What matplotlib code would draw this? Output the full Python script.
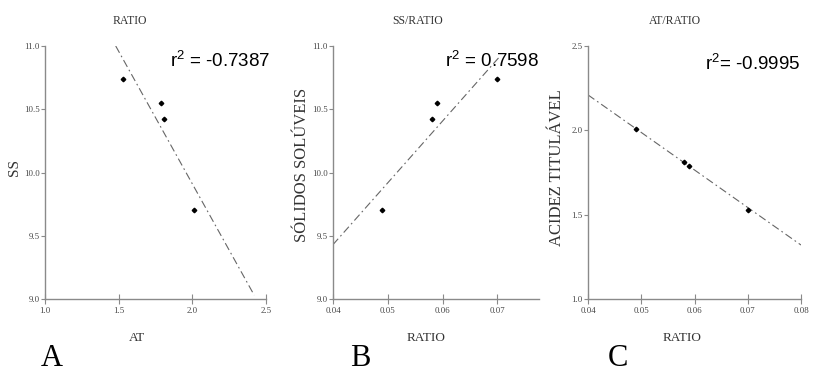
import matplotlib
matplotlib.use('Agg')
import matplotlib.pyplot as plt

# panel A: SS vs AT
at_vals = [1.53, 1.79, 1.81, 2.01]
ss_vals = [10.74, 10.55, 10.42, 9.70]
fit_a_x = [1.48, 2.42]
fit_a_y = [11.0, 9.03]

# panel B: SS vs RATIO
ratio_vals = [0.049, 0.058, 0.059, 0.070]
ss_b_vals = [9.70, 10.42, 10.55, 10.74]
fit_b_x = [0.040, 0.0703]
fit_b_y = [9.43, 10.91]

# panel C: AT vs RATIO
at_c_vals = [2.01, 1.81, 1.79, 1.53]
fit_c_x = [0.040, 0.080]
fit_c_y = [2.21, 1.32]

r2_labels = ['r$^2$ = -0.7387', 'r$^2$ = 0.7598', 'r$^2$= -0.9995']

plt.rcParams['mathtext.fontset'] = 'custom'
plt.rcParams['mathtext.rm'] = 'Liberation Sans'
plt.rcParams['mathtext.it'] = 'Liberation Sans'

W, H = 813, 373
fig = plt.figure(figsize=(W / 100, H / 100), dpi=100)

def px_axes(left, right, top, bottom):
    return fig.add_axes([left / W, (H - bottom) / H, (right - left) / W, (bottom - top) / H])

SERIF = 'Liberation Serif'
SPINE = '#8a8a8a'

def style(ax, xticks, xlabels, yticks, ylabels):
    for s in ['top', 'right']:
        ax.spines[s].set_visible(False)
    for s in ['left', 'bottom']:
        ax.spines[s].set_color(SPINE)
        ax.spines[s].set_linewidth(1.0)
    ax.set_xticks(xticks)
    ax.set_xticklabels(xlabels, family=SERIF, fontsize=6.3, color='#444')
    ax.set_yticks(yticks)
    ax.set_yticklabels(ylabels, family=SERIF, fontsize=6.3, color='#444')
    ax.tick_params(axis='x', direction='inout', length=7, width=0.8, color=SPINE, pad=2)
    ax.tick_params(axis='y', direction='out', length=3, width=0.8, color=SPINE, pad=1)

def draw(ax, x, y, fx, fy):
    ax.plot(fx, fy, color='#666666', lw=0.8, linestyle=(0, (7, 3, 1.5, 3)))
    ax.plot(x, y, 'D', color='black', markersize=2.3, clip_on=False)

def r2(text, x, baseline):
    fig.text(x / W, (H - baseline) / H, text, family='Liberation Sans', fontsize=13.5, va='baseline')

# A
axA = px_axes(45, 266, 46, 299)
draw(axA, at_vals, ss_vals, fit_a_x, fit_a_y)
axA.set_xlim(1.0, 2.5)
axA.set_ylim(9.0, 11.0)
style(axA, [1.0, 1.5, 2.0, 2.5], ['1.0', '1.5', '2.0', '2.5'],
      [9.0, 9.5, 10.0, 10.5, 11.0], ['9.0', '9.5', '10.0', '10.5', '11.0'])
axA.text(0.385, 1.10, 'RATIO', transform=axA.transAxes, ha='center', va='center',
         family=SERIF, fontsize=8.5, color='#333')
axA.text(0.416, -0.155, 'AT', transform=axA.transAxes, ha='center', va='center',
         family=SERIF, fontsize=9.5, color='#333')
axA.text(-0.14, 0.52, 'SS', transform=axA.transAxes, ha='center', va='center',
         rotation=90, family=SERIF, fontsize=11, color='#333')
r2(r2_labels[0], 170, 67)

# B
axB = px_axes(333, 539, 46, 299)
draw(axB, ratio_vals, ss_b_vals, fit_b_x, fit_b_y)
axB.set_xlim(0.04, 0.0776)
axB.set_ylim(9.0, 11.0)
style(axB, [0.04, 0.05, 0.06, 0.07], ['0.04', '0.05', '0.06', '0.07'],
      [9.0, 9.5, 10.0, 10.5, 11.0], ['9.0', '9.5', '10.0', '10.5', '11.0'])
axB.text(0.41, 1.10, 'SS/RATIO', transform=axB.transAxes, ha='center', va='center',
         family=SERIF, fontsize=8.5, color='#333')
axB.text(0.45, -0.155, 'RATIO', transform=axB.transAxes, ha='center', va='center',
         family=SERIF, fontsize=9.5, color='#333')
axB.text(-0.15, 0.53, 'SÓLIDOS SOLÚVEIS', transform=axB.transAxes, ha='center', va='center',
         rotation=90, family=SERIF, fontsize=12, color='#333')
r2(r2_labels[1], 445, 67)

# C (right edge pulled in a little so the 0.08 label stays inside the figure)
axC = px_axes(588, 801, 46, 299)
draw(axC, ratio_vals, at_c_vals, fit_c_x, fit_c_y)
axC.set_xlim(0.04, 0.08)
axC.set_ylim(1.0, 2.5)
style(axC, [0.04, 0.05, 0.06, 0.07, 0.08], ['0.04', '0.05', '0.06', '0.07', '0.08'],
      [1.0, 1.5, 2.0, 2.5], ['1.0', '1.5', '2.0', '2.5'])
axC.text(0.41, 1.10, 'AT/RATIO', transform=axC.transAxes, ha='center', va='center',
         family=SERIF, fontsize=8.5, color='#333')
axC.text(0.44, -0.155, 'RATIO', transform=axC.transAxes, ha='center', va='center',
         family=SERIF, fontsize=9.5, color='#333')
axC.text(-0.145, 0.52, 'ACIDEZ TITULÁVEL', transform=axC.transAxes, ha='center', va='center',
         rotation=90, family=SERIF, fontsize=12, color='#333')
r2(r2_labels[2], 705, 70)

# panel letters
for letter, x in zip(['A', 'B', 'C'], [52, 360, 618]):
    fig.text(x / W, 0.5 / H, letter, ha='center', va='bottom', family=SERIF, fontsize=22)

fig.savefig('out.png', dpi=100)
